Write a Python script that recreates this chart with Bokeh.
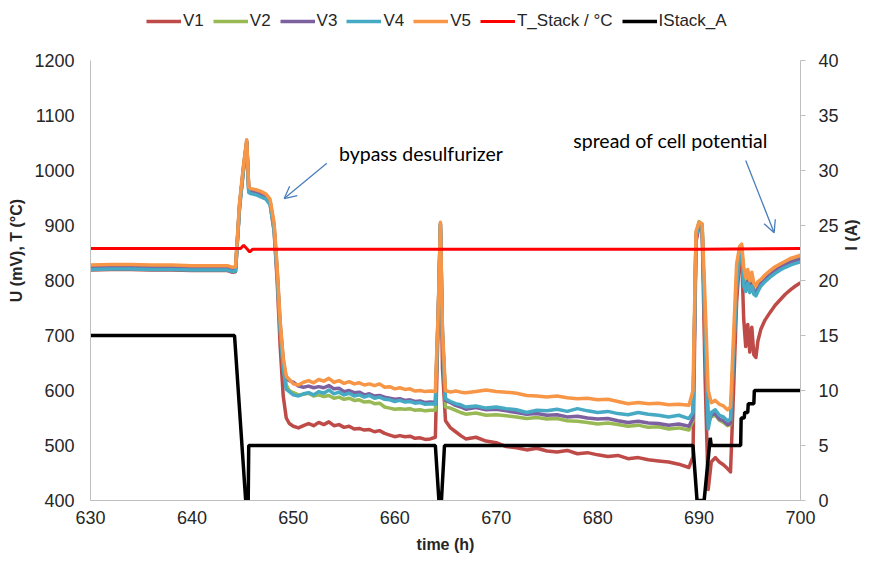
import math
from bokeh.plotting import figure
from bokeh.models import (Range1d, LinearAxis, FixedTicker, Legend, LegendItem,
                          Label, Arrow, OpenHead)
from bokeh.embed import file_html
from bokeh.resources import INLINE

# ---------------- data ----------------
t = [630, 632, 634, 636, 638, 640, 642, 643.5, 644.0, 644.3,
     644.7, 645.1, 645.4, 645.6, 645.8, 646.3, 646.8, 647.3, 647.7, 648.1,
     648.4, 648.7, 649.0, 649.3, 649.6,
     650.0, 650.5, 651.0, 651.5, 652.0, 652.5, 653.0, 653.5, 654.0, 654.5,
     655.0, 655.5, 656.0, 656.5, 657.0, 657.5, 658.0, 658.5, 659.0, 659.5,
     660.0, 660.5, 661.0, 661.5, 662.0, 662.5, 663.0, 663.5, 664.0,
     664.3, 664.5, 664.7, 665.0,
     665.5, 666.0, 666.5, 667, 668, 669, 670, 671, 672, 673, 674, 675, 676,
     677, 678, 679, 680, 681, 682, 683, 684, 685, 686, 687, 688, 689,
     689.4, 689.7, 690.0, 690.3, 690.6, 690.9, 691.2, 691.6, 692.0, 692.4,
     692.8, 693.1, 693.4, 693.7, 694.0, 694.2, 694.4, 694.6, 694.8, 695.0,
     695.2, 695.4, 695.6, 695.8, 696.1, 696.5, 697.0, 697.5, 698.0, 698.5,
     699.0, 699.5, 700.0]

v1 = [819, 820, 820, 819, 819, 818, 818, 818, 815, 816,
      935, 1005, 1050, 965, 960, 958, 955, 950, 940, 890,
      800, 680, 590, 550, 540,
      535, 532, 536, 540, 536, 542, 538, 543, 536, 538,
      533, 535, 530, 531, 528, 529, 525, 527, 522, 519,
      516, 518, 516, 517, 513, 514, 511, 512, 515,
      740, 895, 640, 545,
      532, 525, 518, 512, 515, 508, 505, 498, 496, 492, 495, 490, 488,
      491, 485, 487, 483, 480, 482, 476, 478, 474, 472, 470, 466, 460,
      480, 870, 900, 895, 620, 420, 470, 478, 470, 465,
      458, 452, 600, 760, 840, 845, 730, 680, 720, 670,
      715, 665, 660, 690, 712, 728, 742, 755, 765, 775,
      783, 790, 796]

v2 = [823, 824, 824, 823, 823, 822, 822, 822, 819, 820,
      938, 1008, 1052, 967, 964, 962, 958, 954, 944, 898,
      815, 715, 650, 610, 600,
      596, 592, 593, 595, 590, 592, 589, 591, 586, 588,
      584, 586, 582, 583, 579, 580, 576, 577, 570, 568,
      566, 567, 566, 567, 564, 565, 563, 564, 564,
      750, 902, 700, 570,
      568, 564, 560, 557, 559, 555, 556, 554, 552, 549, 551, 548, 549,
      545, 544, 542, 539, 541, 538, 535, 537, 533, 534, 530, 532, 528,
      545, 885, 907, 902, 700, 545, 552, 555, 546, 542,
      536, 538, 670, 795, 852, 862, 800, 788, 802, 786,
      798, 782, 780, 788, 798, 806, 814, 821, 827, 832,
      836, 839, 842]

v3 = [825, 826, 826, 825, 825, 824, 824, 824, 821, 822,
      938, 1008, 1053, 966, 963, 961, 957, 953, 944, 900,
      818, 720, 655, 622, 618,
      615, 608, 606, 608, 605, 607, 605, 609, 603, 604,
      598, 600, 596, 597, 592, 594, 590, 591, 588, 586,
      584, 585, 582, 583, 580, 581, 578, 579, 578,
      752, 903, 705, 582,
      578, 573, 570, 566, 569, 565, 566, 563, 560, 557, 558, 555, 556,
      552, 553, 550, 548, 549, 545, 542, 544, 541, 540, 537, 539, 535,
      550, 880, 905, 900, 700, 540, 555, 558, 548, 545,
      538, 540, 670, 790, 850, 860, 795, 785, 798, 782,
      794, 779, 777, 785, 795, 803, 811, 818, 824, 829,
      833, 836, 839]

v4 = [820, 821, 821, 820, 820, 819, 819, 819, 816, 817,
      933, 1003, 1050, 960, 958, 956, 952, 948, 938, 892,
      810, 710, 640, 602, 598,
      592, 590, 594, 596, 592, 598, 595, 601, 594, 597,
      592, 595, 590, 592, 588, 591, 586, 588, 584, 583,
      580, 582, 579, 580, 577, 578, 575, 576, 575,
      748, 902, 702, 585,
      580, 576, 574, 570, 572, 568, 570, 567, 565, 560, 564, 563, 566,
      562, 567, 563, 560, 562, 558, 556, 560, 557, 555, 552, 555, 549,
      560, 880, 904, 900, 700, 530, 560, 565, 555, 552,
      545, 548, 670, 790, 850, 858, 790, 780, 795, 778,
      790, 775, 772, 780, 790, 798, 806, 813, 819, 824,
      828, 831, 834]

v5 = [828, 829, 829, 828, 828, 827, 827, 827, 824, 825,
      942, 1012, 1056, 970, 967, 965, 962, 957, 948, 905,
      825, 725, 660, 626, 620,
      612, 610, 615, 618, 614, 620, 617, 622, 615, 618,
      613, 616, 612, 614, 610, 612, 609, 612, 606, 607,
      603, 605, 602, 603, 599, 600, 598, 599, 598,
      755, 906, 710, 600,
      597, 599, 597, 596, 598, 601, 598, 597, 595, 591, 590, 588, 590,
      587, 585, 586, 583, 584, 580, 576, 578, 576, 577, 574, 575, 573,
      600, 890, 906, 903, 760, 600, 578, 582, 575, 572,
      565, 570, 700, 830, 862, 866, 825, 805, 820, 800,
      815, 795, 790, 798, 802, 810, 818, 825, 830, 835,
      840, 843, 846]

t_temp = [630, 640, 644.8, 645.1, 645.4, 645.7, 646.0, 655, 665, 675, 690, 700]
temp = [858, 858, 858, 864, 858, 852, 857, 857, 857, 857, 857, 858]

t_cur = [630, 644.2, 645.3, 645.55, 645.6, 664.0, 664.35, 664.6, 664.9,
         689.4, 689.8, 690.5, 691.1, 691.2, 694.1, 694.15, 694.45, 694.5,
         694.8, 694.85, 695.4, 695.45, 700]
cur = [15, 15, 0, 0, 5, 5, 0, 0, 5,
       5, 0, 0, 5.7, 5, 5, 7.5, 7.5, 8.0,
       8.0, 8.8, 8.8, 10, 10]

x_ticks = [630, 640, 650, 660, 670, 680, 690, 700]
u_ticks = [400, 500, 600, 700, 800, 900, 1000, 1100, 1200]
i_ticks = [0, 5, 10, 15, 20, 25, 30, 35, 40]

# ---------------- layout (pixels) ----------------
W, H = 871, 567
LEFT, RIGHT, BOTTOM = 90, 68, 67       # frame from x=90..803, y=0..500
PLOT_TOP = 60                          # axis area starts 60 px below the top
frame_h = H - BOTTOM
u_lo, u_hi = 400, 1200
i_lo, i_hi = 0, 40
u_top = u_lo + (u_hi - u_lo) * frame_h / (frame_h - PLOT_TOP)
i_top = i_lo + (i_hi - i_lo) * frame_h / (frame_h - PLOT_TOP)

# ---------------- figure ----------------
FONT = "Liberation Sans"
p = figure(width=W, height=H, output_backend="svg", toolbar_location=None,
           x_range=Range1d(630, 700), y_range=Range1d(u_lo, u_top),
           min_border_left=LEFT, min_border_right=RIGHT, min_border_top=0,
           min_border_bottom=BOTTOM)
p.extra_y_ranges = {"cur": Range1d(i_lo, i_top)}
p.outline_line_color = None
p.xgrid.visible = False
p.ygrid.visible = False
p.background_fill_color = "white"
p.border_fill_color = "white"

colors = {"V1": "#BE4B48", "V2": "#98B954", "V3": "#7D60A0",
          "V4": "#46AAC5", "V5": "#F79646"}
renderers = {}
for name, vals in [("V1", v1), ("V2", v2), ("V3", v3), ("V4", v4), ("V5", v5)]:
    renderers[name] = p.line(t, vals, line_color=colors[name], line_width=3.5,
                             line_join="round")
renderers["T"] = p.line(t_temp, temp, line_color="#FF0000", line_width=3)
renderers["I"] = p.line(t_cur, cur, line_color="#000000", line_width=3.5,
                        y_range_name="cur")

# axes
xa = p.xaxis[0]
xa.ticker = FixedTicker(ticks=x_ticks)
xa.axis_label = "time (h)"
ya = p.yaxis[0]
ya.ticker = FixedTicker(ticks=u_ticks)
ya.bounds = (u_lo, u_hi)
ya.axis_label = "U (mV), T (°C)"
ra = LinearAxis(y_range_name="cur", ticker=FixedTicker(ticks=i_ticks),
                bounds=(i_lo, i_hi), axis_label="I (A)")
p.add_layout(ra, "right")

for ax in (xa, ya, ra):
    ax.axis_line_color = "#BFBFBF"
    ax.axis_line_width = 1
    ax.major_tick_line_color = "#BFBFBF"
    ax.minor_tick_line_color = None
    ax.major_label_text_font = FONT
    ax.major_label_text_font_size = "18px"
    ax.major_label_text_color = "#262626"
    ax.axis_label_text_font = FONT
    ax.axis_label_text_font_size = "16px"
    ax.axis_label_text_font_style = "bold"
    ax.axis_label_text_color = "#262626"
xa.major_tick_in = 0
xa.major_tick_out = 0
ya.major_tick_in = 0
ya.major_tick_out = 0
ra.major_tick_in = 0
ra.major_tick_out = 5
xa.major_label_standoff = 10
ya.major_label_standoff = 16
ra.major_label_standoff = 13
xa.axis_label_standoff = 9
ya.axis_label_standoff = 6
ra.axis_label_standoff = 10
ra.axis_label_orientation = math.pi / 2

# legend
items = [LegendItem(label=n, renderers=[renderers[n]]) for n in ["V1", "V2", "V3", "V4", "V5"]]
items.append(LegendItem(label="T_Stack / °C", renderers=[renderers["T"]]))
items.append(LegendItem(label="IStack_A", renderers=[renderers["I"]]))
legend = Legend(items=items, orientation="horizontal", location=(56, 469),
                border_line_color=None, background_fill_alpha=0,
                label_text_font=FONT, label_text_font_size="17px",
                label_text_color="#262626", glyph_width=35, glyph_height=16,
                label_height=16, label_standoff=2, spacing=9, padding=0,
                margin=0)
p.add_layout(legend, "center")

# annotations
arrow_color = "#4A7EBB"
p.add_layout(Arrow(end=OpenHead(size=12, line_color=arrow_color, line_width=1.3),
                   x_start=653.3, y_start=1013, x_end=649.1, y_end=949,
                   line_color=arrow_color, line_width=1.3))
p.add_layout(Arrow(end=OpenHead(size=12, line_color=arrow_color, line_width=1.3),
                   x_start=694.6, y_start=1018, x_end=697.4, y_end=887,
                   line_color=arrow_color, line_width=1.3))
p.add_layout(Label(x=654.5, y=1031, text="bypass desulfurizer",
                   text_font="Lato", text_font_size="19.5px",
                   text_color="#000000", text_baseline="middle"))
p.add_layout(Label(x=677.6, y=1054, text="spread of cell potential",
                   text_font="Lato", text_font_size="19.5px",
                   text_color="#000000", text_baseline="middle"))

open("out.html", "w").write(file_html(p, INLINE))
